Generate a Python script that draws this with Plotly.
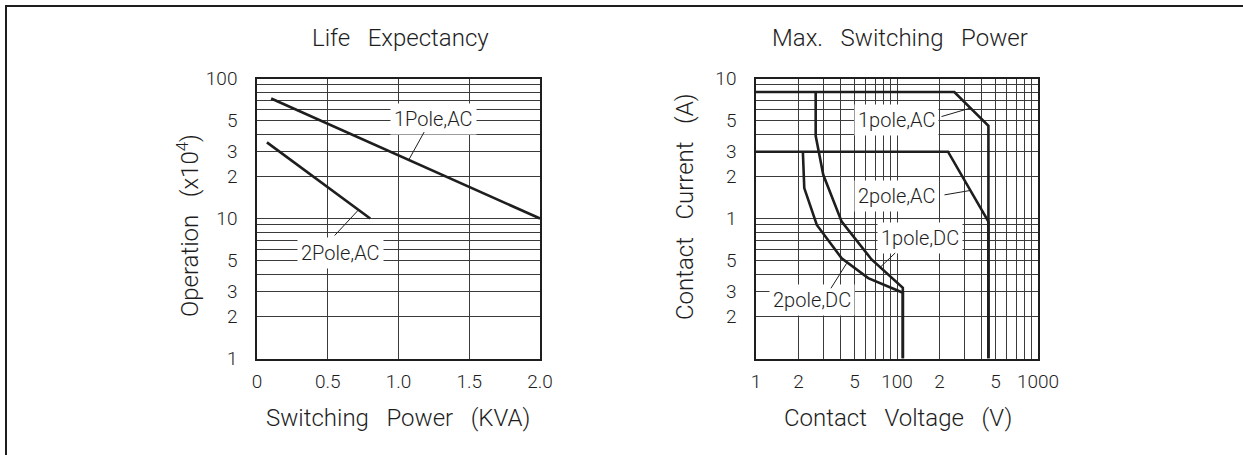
import numpy as np
import plotly.graph_objects as go

# ---------------- data ----------------
# Life Expectancy: switching power (KVA) vs operations (x10^4)
pole1_ac_kva = [0.10, 2.00]
pole1_ac_ops = [72, 10]
pole2_ac_kva = [0.07, 0.80]
pole2_ac_ops = [35, 10]

# Max. Switching Power: contact voltage (V) vs contact current (A)
ac1_v = [10, 255, 445, 445]
ac1_a = [8, 8, 4.6, 0.1]
ac2_v = [10, 230, 445, 445]
ac2_a = [3, 3, 0.95, 0.1]
dc1_v = [26.5, 26.5, 30, 40.5, 66, 110, 110]
dc1_a = [8, 3.9, 2.05, 0.95, 0.51, 0.32, 0.1]
dc2_v = [21.5, 22, 27, 40.5, 62.5, 110, 110]
dc2_a = [3, 1.65, 0.9, 0.52, 0.375, 0.295, 0.1]

# tick labels
left_x_tickvals = [0, 0.5, 1.0, 1.5, 2.0]
left_x_ticktext = ["0", "0.5", "1.0", "1.5", "2.0"]
left_y_tickvals = [1, 2, 3, 5, 10, 20, 30, 50, 100]
left_y_ticktext = ["1", "2", "3", "5", "10", "2", "3", "5", "100"]
left_y_minor = [4, 6, 7, 8, 9, 40, 60, 70, 80, 90]
right_x_tickvals = [10, 20, 50, 100, 200, 500, 1000]
right_x_ticktext = ["1", "2", "5", "100", "2", "5", "1000"]
right_x_minor = [30, 40, 60, 70, 80, 90, 300, 400, 600, 700, 800, 900]
right_y_tickvals = [0.2, 0.3, 0.5, 1, 2, 3, 5, 10]
right_y_ticktext = ["2", "3", "5", "1", "2", "3", "5", "10"]
right_y_minor = [0.4, 0.6, 0.7, 0.8, 0.9, 4, 6, 7, 8, 9]

# ---------------- style ----------------
W, H = 1243, 455
INK = "#1e1e1e"
GRID = "#3a3a3a"
FONT = "Roboto"
TICKF = dict(family=FONT, size=19, color=INK, weight=300)
LABF = dict(family=FONT, size=20, color=INK, weight=300)
TITF = dict(family=FONT, size=24, color=INK, weight=300)

fig = go.Figure()
curve = dict(color=INK, width=2.6)
for xs, ys in [(pole1_ac_kva, pole1_ac_ops), (pole2_ac_kva, pole2_ac_ops)]:
    fig.add_trace(go.Scatter(x=xs, y=ys, mode="lines", line=curve,
                             xaxis="x", yaxis="y", showlegend=False, hoverinfo="skip"))
for xs, ys in [(ac1_v, ac1_a), (ac2_v, ac2_a), (dc1_v, dc1_a), (dc2_v, dc2_a)]:
    fig.add_trace(go.Scatter(x=xs, y=ys, mode="lines", line=curve,
                             xaxis="x2", yaxis="y2", showlegend=False, hoverinfo="skip"))

def px_x(p):
    return p / W

def px_y(p):
    return 1 - p / H

ydom = [px_y(358.5), px_y(78.5)]
axis_common = dict(showline=True, mirror=True, linecolor=INK, linewidth=1.5,
                   showgrid=True, gridcolor=GRID, gridwidth=1, zeroline=False,
                   ticks="", tickfont=TICKF, fixedrange=True, automargin=False)

fig.update_layout(
    template="none",
    width=W, height=H, margin=dict(l=0, r=0, t=0, b=0, pad=0), autosize=False,
    paper_bgcolor="white", plot_bgcolor="white",
    xaxis=dict(domain=[px_x(257), px_x(540)], range=[0, 2], tickmode="array",
               tickvals=left_x_tickvals, ticktext=left_x_ticktext,
               ticklabelstandoff=5, anchor="y", **axis_common),
    yaxis=dict(domain=ydom, type="log", range=[0, 2], tickmode="array",
               tickvals=left_y_tickvals, ticktext=left_y_ticktext,
               ticklabelstandoff=14, anchor="x",
               minor=dict(tickmode="array", tickvals=left_y_minor, showgrid=True,
                          gridcolor=GRID, gridwidth=1, ticks=""),
               **axis_common),
    xaxis2=dict(domain=[px_x(756), px_x(1038)], type="log", range=[1, 3], tickmode="array",
                tickvals=right_x_tickvals, ticktext=right_x_ticktext,
                ticklabelstandoff=5, anchor="y2",
                minor=dict(tickmode="array", tickvals=right_x_minor, showgrid=True,
                           gridcolor=GRID, gridwidth=1, ticks=""),
                **axis_common),
    yaxis2=dict(domain=ydom, type="log", range=[-1, 1], tickmode="array",
                tickvals=right_y_tickvals, ticktext=right_y_ticktext,
                ticklabelstandoff=14, anchor="x2",
                minor=dict(tickmode="array", tickvals=right_y_minor, showgrid=True,
                           gridcolor=GRID, gridwidth=1, ticks=""),
                **axis_common),
)

ann = []
NB = "\u00a0\u00a0\u00a0"
# titles
for txt, cx, cy, ang in [
    ("Life" + NB + "Expectancy", 400, 38, 0),
    ("Max." + NB + "Switching" + NB + "Power", 900, 38, 0),
    ("Switching" + NB + "Power" + NB + "(KVA)", 398, 418, 0),
    ("Contact" + NB + "Voltage" + NB + "(V)", 898, 418, 0),
    ("Operation" + NB + "(x10<sup>4</sup>)", 188, 226, -90),
    ("Contact" + NB + "Current" + NB + "(A)", 685, 207, -90),
]:
    ann.append(dict(text=txt, x=px_x(cx), y=px_y(cy),
                    xref="paper", yref="paper", showarrow=False, textangle=ang,
                    font=TITF, xanchor="center", yanchor="middle"))

# curve labels (x, y in axis units; log axes in log10)
labels = [
    ("1Pole,AC", 1.244, np.log10(51), "x", "y"),
    ("2Pole,AC", 0.587, np.log10(5.7), "x", "y"),
    ("1pole,AC", 1.998, 0.706, "x2", "y2"),
    ("2pole,AC", 1.998, 0.160, "x2", "y2"),
    ("1pole,DC", 2.163, -0.141, "x2", "y2"),
    ("2pole,DC", 1.395, -0.580, "x2", "y2"),
]
for txt, x, y, xr, yr in labels:
    ann.append(dict(text=txt, x=x, y=y, xref=xr, yref=yr, showarrow=False,
                    font=LABF, bgcolor="white", borderpad=3,
                    xanchor="center", yanchor="middle"))

# leader lines: (tip x, tip y, start x, start y)
leaders = [
    (1.076, 1.425, 1.187, 1.628, "x", "y"),
    (0.716, 1.06, 0.539, 0.868, "x", "y"),
    (2.525, 0.79, 2.305, 0.725, "x2", "y2"),
    (2.518, 0.20, 2.326, 0.167, "x2", "y2"),
    (1.879, -0.35, 1.998, -0.236, "x2", "y2"),
    (1.643, -0.32, 1.525, -0.509, "x2", "y2"),
]
for tx, ty, sx, sy, xr, yr in leaders:
    ann.append(dict(text="", x=tx, y=ty, ax=sx, ay=sy, xref=xr, yref=yr,
                    axref=xr, ayref=yr, showarrow=True, arrowhead=0,
                    arrowwidth=1, arrowcolor=INK, standoff=0, startstandoff=0))

fig.update_layout(annotations=ann)

# outer frame (top and left edges)
fig.update_layout(shapes=[
    dict(type="line", xref="paper", yref="paper", x0=px_x(5), x1=1, y0=px_y(6), y1=px_y(6),
         line=dict(color=INK, width=2)),
    dict(type="line", xref="paper", yref="paper", x0=px_x(6), x1=px_x(6), y0=0, y1=px_y(5),
         line=dict(color=INK, width=2)),
])

fig.write_html(
    "out.html",
    config={"displayModeBar": False},
    post_script="document.body.style.margin='0';document.body.style.overflow='hidden';",
)
